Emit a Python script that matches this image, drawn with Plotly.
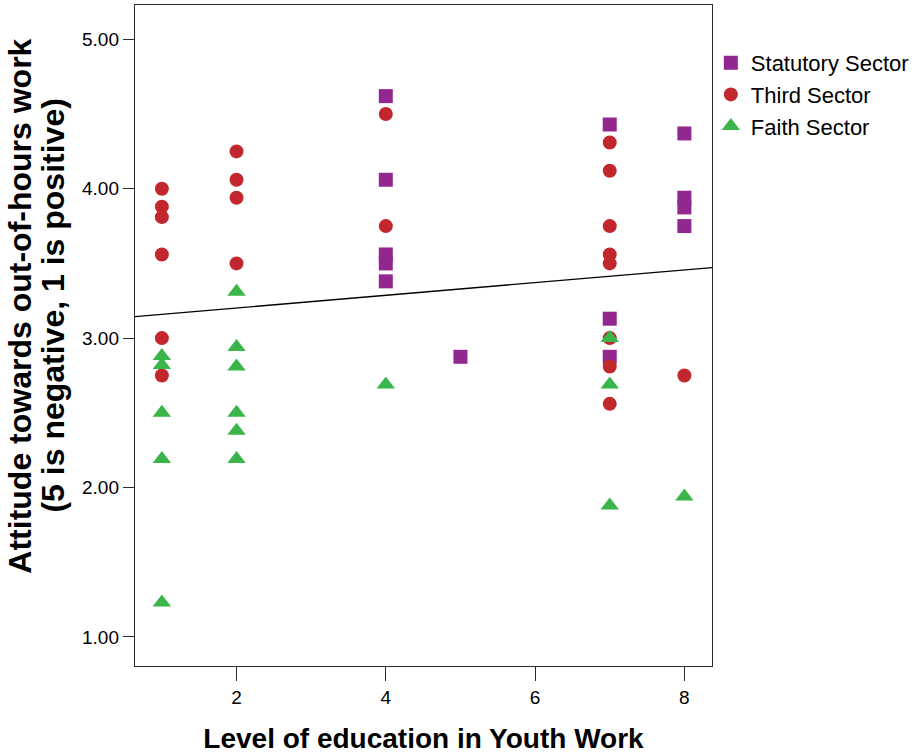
import plotly.graph_objects as go

# Data
statutory_x = [4, 4, 4, 4, 4, 5, 7, 7, 7, 8, 8, 8, 8]
statutory_y = [4.62, 4.06, 3.56, 3.50, 3.38, 2.875, 4.43, 3.13, 2.875, 4.37, 3.94, 3.875, 3.75]

third_x = [1, 1, 1, 1, 1, 1, 2, 2, 2, 2, 4, 4, 7, 7, 7, 7, 7, 7, 7, 7, 8]
third_y = [4.00, 3.88, 3.81, 3.56, 3.00, 2.75, 4.25, 4.06, 3.94, 3.50, 4.50, 3.75,
           4.31, 4.12, 3.75, 3.56, 3.50, 3.00, 2.81, 2.56, 2.75]

faith_x = [1, 1, 1, 1, 1, 2, 2, 2, 2, 2, 2, 4, 7, 7, 7, 8]
faith_y = [2.88, 2.82, 2.50, 2.19, 1.23, 3.31, 2.94, 2.81, 2.50, 2.38, 2.19, 2.69,
           3.00, 2.69, 1.88, 1.94]

fit_intercept = 3.117
fit_slope = 0.0424

x_range = [0.64, 8.37]
y_range = [0.805, 5.23]
x_ticks = [2, 4, 6, 8]
y_ticks = [1, 2, 3, 4, 5]
y_tick_labels = ["1.00", "2.00", "3.00", "4.00", "5.00"]

y_title_lines = ["Attitude towards out-of-hours work", "(5 is negative, 1 is positive)"]
x_title = "Level of education in Youth Work"

FONT = "Liberation Sans, Arial, Helvetica, sans-serif"
AXIS_COLOR = "#2a2a2a"

fig = go.Figure()

fig.add_trace(go.Scatter(
    x=statutory_x, y=statutory_y, mode="markers", name="Statutory Sector",
    marker=dict(symbol="square", size=14, color="#92278F", line=dict(width=0)),
))
fig.add_trace(go.Scatter(
    x=third_x, y=third_y, mode="markers", name="Third Sector",
    marker=dict(symbol="circle", size=14, color="#C1272D", line=dict(width=0)),
))
fig.add_trace(go.Scatter(
    x=faith_x, y=faith_y, mode="markers", name="Faith Sector",
    marker=dict(symbol="triangle-up", size=16, color="#39B54A", line=dict(width=0)),
))

fit_x = x_range
fit_y = [fit_intercept + fit_slope * v for v in fit_x]
fig.add_trace(go.Scatter(
    x=fit_x, y=fit_y, mode="lines", showlegend=False,
    line=dict(color="black", width=1.3), hoverinfo="skip",
))

# Y-axis title as two rotated lines (tight line spacing like the reference)
fig.add_annotation(
    text="<b>" + y_title_lines[0] + "</b>", xref="paper", yref="paper",
    x=-0.1995, y=0.545, xanchor="center", yanchor="middle", textangle=-90,
    showarrow=False, font=dict(size=32, family=FONT, color="black"),
)
fig.add_annotation(
    text="<b>" + y_title_lines[1] + "</b>", xref="paper", yref="paper",
    x=-0.1425, y=0.545, xanchor="center", yanchor="middle", textangle=-90,
    showarrow=False, font=dict(size=32, family=FONT, color="black"),
)

fig.update_layout(
    width=923, height=754,
    margin=dict(l=135, r=211, t=5, b=88, autoexpand=False),
    paper_bgcolor="white", plot_bgcolor="white",
    font=dict(family=FONT, color="black", size=19),
    showlegend=True,
    legend=dict(
        x=0.998, y=0.944, xanchor="left", yanchor="top",
        font=dict(size=22, family=FONT, color="black"),
        bgcolor="rgba(0,0,0,0)", borderwidth=0,
        itemsizing="trace", tracegroupgap=0,
    ),
    xaxis=dict(
        range=x_range, tickvals=x_ticks, ticktext=[str(t) for t in x_ticks],
        showgrid=False, zeroline=False, automargin=False,
        showline=True, linecolor=AXIS_COLOR, linewidth=1.4, mirror=True,
        ticks="outside", ticklen=14, tickwidth=1.2, tickcolor=AXIS_COLOR,
        tickfont=dict(size=19, family=FONT),
        title=dict(text="<b>" + x_title + "</b>",
                   font=dict(size=28, family=FONT), standoff=22),
    ),
    yaxis=dict(
        range=y_range, tickvals=y_ticks, ticktext=y_tick_labels,
        showgrid=False, zeroline=False, automargin=False,
        showline=True, linecolor=AXIS_COLOR, linewidth=1.4, mirror=True,
        ticks="outside", ticklen=11, tickwidth=1.2, tickcolor=AXIS_COLOR,
        tickfont=dict(size=19, family=FONT),
    ),
)

# Remove the default page margin so the figure sits at the window's origin
fig.write_html(
    "out.html",
    config={"displayModeBar": False},
    post_script="document.body.style.margin='0';",
)
